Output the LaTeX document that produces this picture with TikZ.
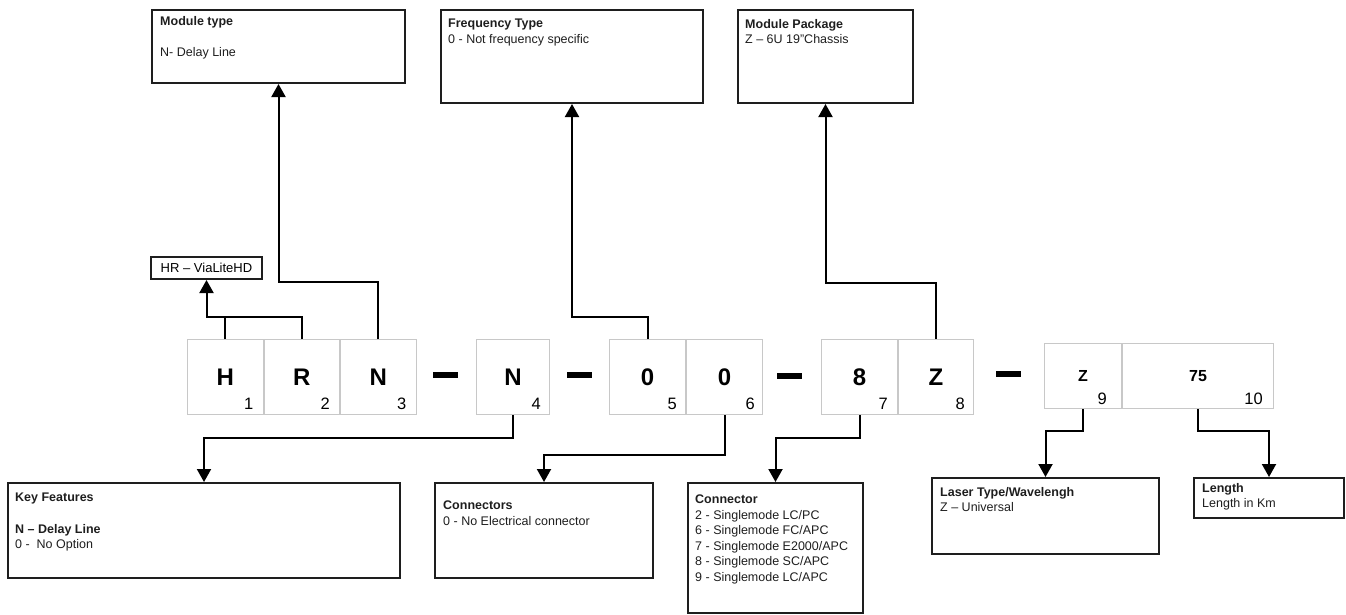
\documentclass[tikz,border=0pt]{standalone}
\usepackage{fontspec}
\setmainfont{Liberation Sans}
\usetikzlibrary{positioning}
\usetikzlibrary{arrows.meta}
\usepackage{xcolor}

\definecolor{cellgray}{RGB}{200,200,200}
\definecolor{boxline}{RGB}{30,30,30}

\tikzset{
	cell/.style={draw=cellgray, line width=1pt, inner sep=0pt, minimum height=75pt, font=\fontsize{24}{28}\selectfont\bfseries},
	smallcell/.style={cell, minimum height=65pt, font=\fontsize{16}{20}\selectfont\bfseries},
	num/.style={anchor=base east, inner sep=0pt, font=\fontsize{16.5}{20}\selectfont},
	dashbar/.style={fill=black, minimum width=25pt, minimum height=6pt, inner sep=0pt},
	infobox/.style={draw=boxline, line width=2pt, anchor=north west, inner sep=0pt},
	infotext/.style={anchor=north west, align=left, inner sep=0pt, text=boxline, font=\fontsize{12.5}{15.5}\selectfont},
	link/.style={line width=2pt, -{Triangle[length=13pt,width=14pt]}},
	wire/.style={line width=2pt}
}

\begin{document}
\begin{tikzpicture}[x=1pt, y=-1pt]
\useasboundingbox (0,0) rectangle (1346,614);

% description boxes, top row
\node[infobox, minimum width=253pt, minimum height=73pt] (modtype) at (151,9) {};
\node[infotext] (modtypetxt) at ([shift={(9,7)}]modtype.north west) {\textbf{Module type}\\[16pt]N- Delay Line};

\node[infobox, minimum width=262pt, minimum height=93pt] (freq) at (440,9) {};
\node[infotext] (freqtxt) at ([shift={(8,10)}]freq.north west) {\textbf{Frequency Type}\\0 - Not frequency specific};

\node[infobox, minimum width=175pt, minimum height=93pt] (modpkg) at (737,9) {};
\node[infotext] (modpkgtxt) at ([shift={(8,10)}]modpkg.north west) {\textbf{Module Package}\\Z – 6U 19"Chassis};

\node[draw=boxline, line width=2pt, inner sep=0pt, minimum width=111pt, minimum height=22pt, font=\fontsize{13}{15}\selectfont] (hr) at (206.5,268) {HR – ViaLiteHD};

% code cells
\node[cell, anchor=north west, minimum width=75.5pt] (h) at (187,339) {H};
\node[cell, minimum width=75.5pt, right=0pt of h] (r) {R};
\node[cell, minimum width=75.5pt, right=0pt of r] (n) {N};

\node[cell, anchor=north west, minimum width=73pt] (n4) at (476,339) {N};

\node[cell, anchor=north west, minimum width=76pt] (c5) at (609,339) {0};
\node[cell, minimum width=76pt, right=0pt of c5] (c6) {0};

\node[cell, anchor=north west, minimum width=76pt] (c7) at (821,339) {8};
\node[cell, minimum width=75pt, right=0pt of c7] (c8) {Z};

\node[smallcell, anchor=north west, minimum width=77pt] (c9) at (1044,343) {Z};
\node[smallcell, minimum width=151pt, right=0pt of c9] (c10) {75};

% position numbers
\node[num] (k1) at ([shift={(-10,-6)}]h.south east) {1};
\node[num] (k2) at ([shift={(-10,-6)}]r.south east) {2};
\node[num] (k3) at ([shift={(-10,-6)}]n.south east) {3};
\node[num] (k4) at ([shift={(-9,-6)}]n4.south east) {4};
\node[num] (k5) at ([shift={(-9,-6)}]c5.south east) {5};
\node[num] (k6) at ([shift={(-8,-6)}]c6.south east) {6};
\node[num] (k7) at ([shift={(-10,-6)}]c7.south east) {7};
\node[num] (k8) at ([shift={(-9,-6)}]c8.south east) {8};
\node[num] (k9) at ([shift={(-15,-5)}]c9.south east) {9};
\node[num] (k10) at ([shift={(-11,-5)}]c10.south east) {10};

% separators
\node[dashbar] (dash1) at (445.5,375) {};
\node[dashbar] (dash2) at (579,375) {};
\node[dashbar] (dash3) at (789.5,376) {};
\node[dashbar] (dash4) at (1008,374) {};

% description boxes, bottom row
\node[infobox, minimum width=392pt, minimum height=95pt] (keyfeat) at (7,482) {};
\node[infotext] (keyfeattxt) at ([shift={(8,11)}]keyfeat.north west) {\textbf{Key Features}\\[16pt]\textbf{N – Delay Line}\\0 -\ \ No Option};

\node[infobox, minimum width=218pt, minimum height=95pt] (elconn) at (434,482) {};
\node[infotext] (elconntxt) at ([shift={(9,19)}]elconn.north west) {\textbf{Connectors}\\0 - No Electrical connector};

\node[infobox, minimum width=175pt, minimum height=130pt] (optconn) at (687,482) {};
\node[infotext] (optconntxt) at ([shift={(8,13)}]optconn.north west) {\textbf{Connector}\\2 - Singlemode LC/PC\\6 - Singlemode FC/APC\\7 - Singlemode E2000/APC\\8 - Singlemode SC/APC\\9 - Singlemode LC/APC};

\node[infobox, minimum width=227pt, minimum height=76pt] (laser) at (931,477) {};
\node[infotext] (lasertxt) at ([shift={(9,10)}]laser.north west) {\textbf{Laser Type/Wavelengh}\\Z – Universal};

\node[infobox, minimum width=150pt, minimum height=40pt] (length) at (1193,477) {};
\node[infotext] (lengthtxt) at ([shift={(9,6)}]length.north west) {\textbf{Length}\\Length in Km};

% connectors
\coordinate (hrbus) at (0,317);
\draw[wire] (h.north) -- (h.north |- hrbus);
\draw[link] (r.north) |- (hr.south |- hrbus) -- (hr.south);
\draw[link] (n.north) -- ++(0,-57) -| (modtype.south);
\draw[link] (c5.north) -- ++(0,-22) -| (freq.south);
\draw[link] (c8.north) -- ++(0,-56) -| (modpkg.south);

\draw[link] (n4.south) -- ++(0,23) -| (keyfeat.north);
\draw[link] (c6.south) -- ++(0,40) -| (elconn.north);
\draw[link] (c7.south) -- ++(0,23) -| (optconn.north);
\draw[link] (c9.south) -- ++(0,22) -| (laser.north);
\draw[link] (c10.south) -- ++(0,22) -| (length.north);
\end{tikzpicture}
\end{document}
